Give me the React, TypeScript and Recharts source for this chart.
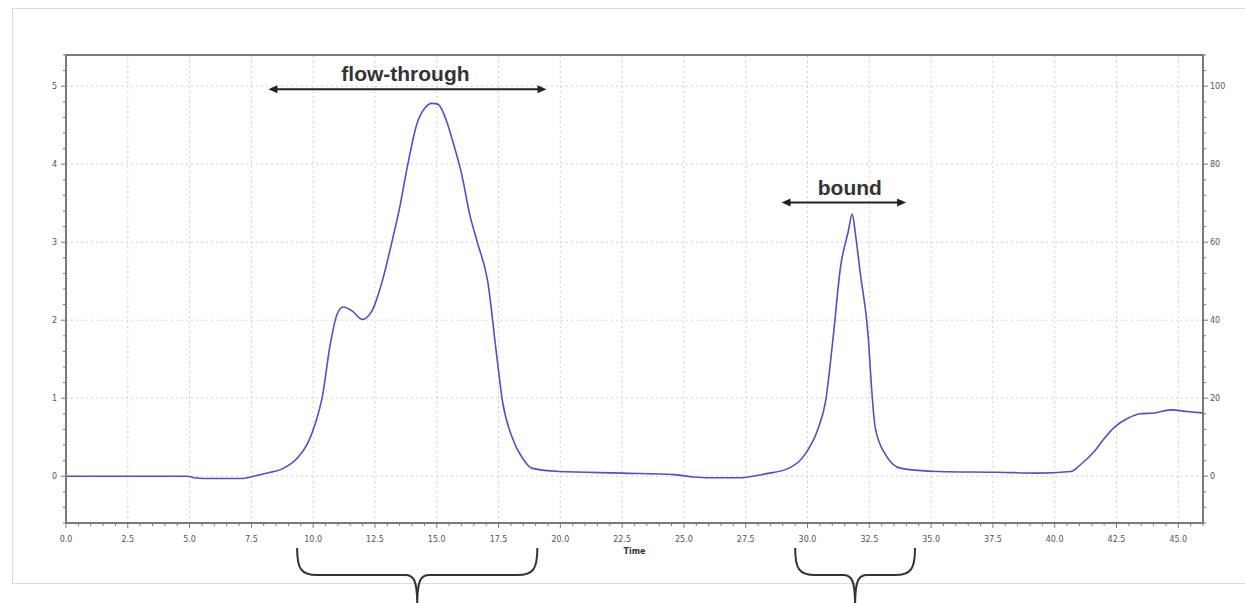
import React from "react";
import { LineChart, Line, XAxis, YAxis, ReferenceLine, ReferenceArea } from "recharts";

// ---- data ----
const timeMin = [0, 4.9, 5.2, 5.6, 7.06, 7.6, 8.15, 8.79, 9.35, 9.76, 10.08, 10.36, 10.69, 10.97, 11.21, 11.57, 11.98, 12.38, 12.58, 12.82, 13.19, 13.51, 13.83, 14.19, 14.52, 14.8, 15.04, 15.4, 15.65, 16.01, 16.33, 16.65, 17.06, 17.42, 17.66, 18.06, 18.47, 18.87, 19.96, 22.5, 24.6, 25.4, 26.0, 27.2, 28.3, 29.23, 29.92, 30.44, 30.73, 31.05, 31.33, 31.65, 31.81, 31.94, 32.14, 32.46, 32.58, 32.74, 33.15, 33.79, 35.28, 37.7, 39.31, 40.65, 41.05, 41.61, 42.02, 42.42, 42.94, 43.47, 44.03, 44.68, 45.36, 46.0];
const absorbance = [0, 0, -0.02, -0.03, -0.03, 0.0, 0.04, 0.1, 0.23, 0.41, 0.67, 1.0, 1.69, 2.08, 2.17, 2.12, 2.01, 2.12, 2.28, 2.53, 3.01, 3.46, 4.0, 4.51, 4.72, 4.78, 4.77, 4.55, 4.29, 3.87, 3.36, 2.99, 2.5, 1.56, 0.96, 0.49, 0.23, 0.1, 0.06, 0.04, 0.02, -0.01, -0.02, -0.02, 0.03, 0.1, 0.29, 0.62, 0.96, 1.82, 2.67, 3.14, 3.36, 3.1, 2.59, 1.77, 1.18, 0.62, 0.28, 0.1, 0.06, 0.05, 0.04, 0.06, 0.15, 0.32, 0.49, 0.63, 0.74, 0.8, 0.81, 0.85, 0.83, 0.81];

const xMajorTicks = [0, 2.5, 5, 7.5, 10, 12.5, 15, 17.5, 20, 22.5, 25, 27.5, 30, 32.5, 35, 37.5, 40, 42.5, 45];
const xTickLabels = ["0.0", "2.5", "5.0", "7.5", "10.0", "12.5", "15.0", "17.5", "20.0", "22.5", "25.0", "27.5", "30.0", "32.5", "35.0", "37.5", "40.0", "42.5", "45.0"];
const yMajorTicks = [0, 1, 2, 3, 4, 5];
const yLeftLabels = ["0", "1", "2", "3", "4", "5"];
const yRightLabels = ["0", "20", "40", "60", "80", "100"];

const xDomain: [number, number] = [0, 46];
const yDomain: [number, number] = [-0.6, 5.4];

const flowThrough = { label: "flow-through", from: 8.19, to: 19.44, y: 4.96 };
const bound = { label: "bound", from: 28.95, to: 33.99, y: 3.51 };
const braceFlow = { from: 9.35, to: 19.07 };
const braceBound = { from: 29.5, to: 34.35 };

const data = timeMin.map((t, i) => ({ t, a: absorbance[i] }));

// minor tick positions (axis decoration only)
const xMinorTicks: number[] = [];
for (let i = 0; i <= 92; i++) xMinorTicks.push(Math.round(i * 0.5 * 100) / 100);
const yMinorTicks: number[] = [];
for (let i = -3; i <= 27; i++) yMinorTicks.push(Math.round(i * 0.2 * 100) / 100);

const AXIS = "#7a7a7a";
const TICKTXT = "#555";

const XTick = (props: any) => {
  const { x, y, payload } = props;
  const v = payload.value;
  const idx = xMajorTicks.findIndex((m) => Math.abs(m - v) < 1e-6);
  return (
    <g>
      <line x1={x} x2={x} y1={y} y2={y + (idx >= 0 ? 5 : 3)} stroke={AXIS} strokeWidth={1} />
      {idx >= 0 && (
        <text x={x} y={y + 19} textAnchor="middle" fontSize={8} fill={TICKTXT} fontFamily="DejaVu Sans">
          {xTickLabels[idx]}
        </text>
      )}
    </g>
  );
};

const YLeftTick = (props: any) => {
  const { x, y, payload } = props;
  const v = payload.value;
  const idx = yMajorTicks.findIndex((m) => Math.abs(m - v) < 1e-6);
  return (
    <g>
      <line x1={x - (idx >= 0 ? 5 : 3)} x2={x} y1={y} y2={y} stroke={AXIS} strokeWidth={1} />
      {idx >= 0 && (
        <text x={x - 9} y={y + 3} textAnchor="end" fontSize={8} fill={TICKTXT} fontFamily="DejaVu Sans">
          {yLeftLabels[idx]}
        </text>
      )}
    </g>
  );
};

const YRightTick = (props: any) => {
  const { x, y, payload } = props;
  const v = payload.value;
  const idx = yMajorTicks.findIndex((m) => Math.abs(m - v) < 1e-6);
  return (
    <g>
      <line x1={x} x2={x + (idx >= 0 ? 5 : 3)} y1={y} y2={y} stroke={AXIS} strokeWidth={1} />
      {idx >= 0 && (
        <text x={x + 7} y={y + 3} textAnchor="start" fontSize={8} fill={TICKTXT} fontFamily="DejaVu Sans">
          {yRightLabels[idx]}
        </text>
      )}
    </g>
  );
};

const arrowShape = (label: string, fontSize: number, textGap: number, dx: number) => (p: any) => {
  const { x1, y1, x2 } = p;
  const y = y1;
  const h = 9;
  const w = 4;
  return (
    <g>
      <line x1={x1 + 4} x2={x2 - 4} y1={y} y2={y} stroke="#222" strokeWidth={2} />
      <polygon points={`${x1},${y} ${x1 + h},${y - w} ${x1 + h},${y + w}`} fill="#222" />
      <polygon points={`${x2},${y} ${x2 - h},${y - w} ${x2 - h},${y + w}`} fill="#222" />
      <text x={(x1 + x2) / 2 + dx} y={y - textGap} textAnchor="middle" fontSize={fontSize} fontWeight="bold" fill="#333" fontFamily="Liberation Sans">
        {label}
      </text>
    </g>
  );
};

const braceShape = (p: any) => {
  const { x1, y1, x2 } = p;
  const top = y1 + 25;
  const bar = y1 + 52;
  const tip = y1 + 82;
  const mid = (x1 + x2) / 2;
  const r = 12;
  const d = `M ${x1} ${top} C ${x1} ${bar - 6}, ${x1 + 4} ${bar}, ${x1 + r + 8} ${bar} L ${mid - r} ${bar} C ${mid - 4} ${bar}, ${mid} ${bar + 4}, ${mid} ${tip} M ${mid} ${tip} C ${mid} ${bar + 4}, ${mid + 4} ${bar}, ${mid + r} ${bar} L ${x2 - r - 8} ${bar} C ${x2 - 4} ${bar}, ${x2} ${bar - 6}, ${x2} ${top}`;
  return <path d={d} fill="none" stroke="#333" strokeWidth={2} />;
};

export default function App() {
  return (
    <div style={{ position: "absolute", left: 0, top: 0, width: 1245, height: 603, background: "#fff", overflow: "hidden" }}>
      <div style={{ position: "absolute", left: 12, top: 8, width: 1250, height: 574, border: "1px solid #dcdcdc" }} />
      <div style={{ position: "absolute", left: 0, top: 0 }}>
        <LineChart width={1245} height={603} data={data} margin={{ top: 55, right: 12, bottom: 50, left: 36 }}>
          <XAxis
            dataKey="t"
            type="number"
            domain={xDomain}
            allowDataOverflow
            ticks={xMinorTicks}
            interval={0}
            tickSize={0}
            tickMargin={0}
            tickLine={false}
            tick={<XTick />}
            axisLine={{ stroke: AXIS, strokeWidth: 2 }}
            height={30}
            label={{ value: "Time", position: "insideBottom", offset: -1, fontSize: 8, fontWeight: "bold", fill: "#333", fontFamily: "DejaVu Sans" }}
          />
          <YAxis
            yAxisId="left"
            type="number"
            domain={yDomain}
            allowDataOverflow
            ticks={yMinorTicks}
            interval={0}
            tickSize={0}
            tickMargin={0}
            tickLine={false}
            tick={<YLeftTick />}
            axisLine={{ stroke: AXIS, strokeWidth: 2 }}
            width={30}
          />
          <YAxis
            yAxisId="right"
            orientation="right"
            type="number"
            domain={yDomain}
            allowDataOverflow
            ticks={yMinorTicks}
            interval={0}
            tickSize={0}
            tickMargin={0}
            tickLine={false}
            tick={<YRightTick />}
            axisLine={{ stroke: AXIS, strokeWidth: 2 }}
            width={30}
          />
          {xMajorTicks.filter((v) => v > 0).map((v) => (
            <ReferenceLine key={"gx" + v} x={v} yAxisId="left" stroke="#cfcfcf" strokeDasharray="2 3" />
          ))}
          {yMajorTicks.map((v) => (
            <ReferenceLine key={"gy" + v} y={v} yAxisId="left" stroke="#cfcfcf" strokeDasharray="2 3" />
          ))}
          <ReferenceArea x1={xDomain[0]} x2={xDomain[1]} y1={yDomain[0]} y2={yDomain[1]} yAxisId="left" fill="none" stroke={AXIS} strokeWidth={2} ifOverflow="visible" />
          <Line
            yAxisId="left"
            dataKey="a"
            type="monotone"
            stroke="#5050c8"
            strokeWidth={1.6}
            dot={false}
            isAnimationActive={false}
          />
          <ReferenceLine
            yAxisId="left"
            segment={[{ x: flowThrough.from, y: flowThrough.y }, { x: flowThrough.to, y: flowThrough.y }]}
            ifOverflow="visible"
            shape={arrowShape(flowThrough.label, 21, 8, -2)}
          />
          <ReferenceLine
            yAxisId="left"
            segment={[{ x: bound.from, y: bound.y }, { x: bound.to, y: bound.y }]}
            ifOverflow="visible"
            shape={arrowShape(bound.label, 21, 7, 6)}
          />
          <ReferenceLine
            yAxisId="left"
            segment={[{ x: braceFlow.from, y: yDomain[0] }, { x: braceFlow.to, y: yDomain[0] }]}
            ifOverflow="visible"
            shape={braceShape}
          />
          <ReferenceLine
            yAxisId="left"
            segment={[{ x: braceBound.from, y: yDomain[0] }, { x: braceBound.to, y: yDomain[0] }]}
            ifOverflow="visible"
            shape={braceShape}
          />
        </LineChart>
      </div>
    </div>
  );
}
